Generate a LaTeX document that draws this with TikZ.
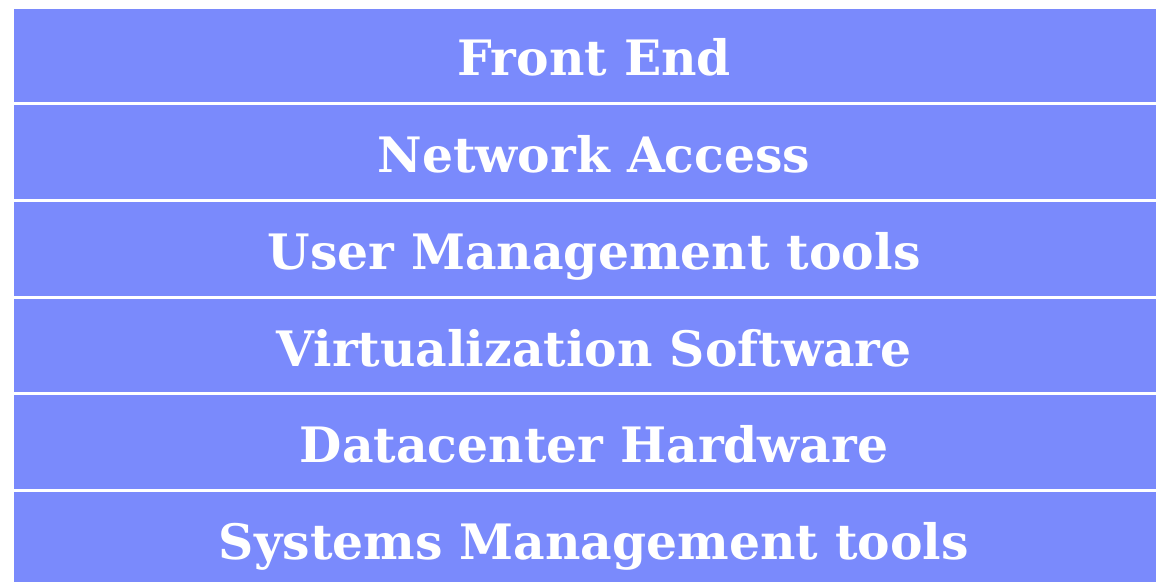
\documentclass[tikz,border=0pt]{standalone}
\usepackage{fontspec}
\setmainfont{DejaVu Serif}
\definecolor{layer}{HTML}{7A8AFC}
\begin{document}
\begin{tikzpicture}[x=1pt,y=-1pt,
  layerbox/.style={rectangle, fill=layer, draw=none, inner sep=0pt,
    minimum width=1160pt, minimum height=93.7pt,
    text height=41pt, text depth=0pt, text=white,
    font=\fontsize{48.8}{50}\selectfont\bfseries}]
\useasboundingbox (0,0) rectangle (1156,581);
\fill[white] (0,0) rectangle (1156,581);
\node[layerbox] (l1) at (594,55.4) {Front End};
\node[layerbox] (l2) at (594,152.1) {Network Access};
\node[layerbox] (l3) at (594,248.8) {User Management tools};
\node[layerbox] (l4) at (594,345.5) {Virtualization Software};
\node[layerbox] (l5) at (594,442.2) {Datacenter Hardware};
\node[layerbox] (l6) at (594,538.9) {Systems Management tools};
\end{tikzpicture}
\end{document}
